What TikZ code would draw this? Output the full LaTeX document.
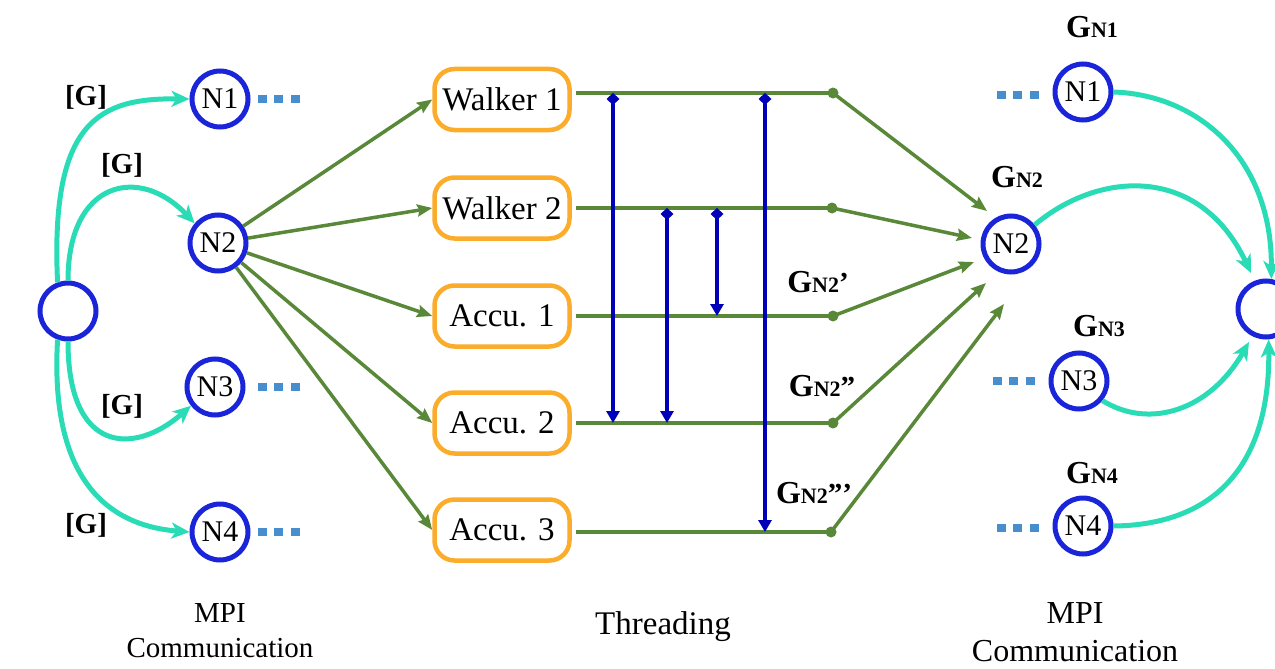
\documentclass[tikz,border=0pt]{standalone}
\usepackage{fontspec}
\setmainfont{Liberation Serif}
\usetikzlibrary{arrows.meta,calc}

\definecolor{ringblue}{RGB}{26,36,216}
\definecolor{flowcyan}{RGB}{42,220,182}
\definecolor{linkgreen}{RGB}{88,136,56}
\definecolor{syncblue}{RGB}{0,0,185}
\definecolor{boxorange}{RGB}{250,172,42}
\definecolor{dotblue}{RGB}{70,142,206}

\tikzset{
  procnode/.style={circle, draw=ringblue, line width=5pt, fill=white,
    minimum size=56pt, inner sep=0pt, font=\fontsize{30}{32}\selectfont},
  thread/.style={draw=boxorange, line width=4.5pt, rounded corners=20pt,
    fill=white, minimum width=135pt, minimum height=61pt, inner sep=0pt,
    font=\fontsize{33}{36}\selectfont},
  joint/.style={circle, fill=linkgreen, minimum size=11pt, inner sep=0pt},
  glabel/.style={font=\bfseries\fontsize{29}{30}\selectfont},
  caption/.style={align=center, font=\fontsize{29}{35}\selectfont},
  mpiflow/.style={draw=flowcyan, line width=5pt,
    -{Stealth[length=18pt, width=16pt, inset=5pt]}},
  spawn/.style={draw=linkgreen, line width=3.5pt,
    -{Stealth[length=15pt, width=12pt, inset=2pt]}},
  track/.style={draw=linkgreen, line width=3.5pt},
  sync/.style={draw=syncblue, line width=3.5pt,
    {Diamond[length=12pt, width=13pt]}-{Triangle[length=12pt, width=13pt]}},
  ellip/.style={fill=dotblue, minimum width=9pt, minimum height=8pt, inner sep=0pt},
}
\newcommand{\gsym}[1]{{\fontsize{32}{34}\selectfont G}{\fontsize{22}{24}\selectfont #1}}

\begin{document}
\begin{tikzpicture}[x=1pt, y=-1pt]
\useasboundingbox (0,0) rectangle (1275,669);
\clip (0,0) rectangle (1275,669);

% ---- left: scatter of G to the ranks
\node[procnode] (lroot) at (68,311) {};
\node[procnode] (lN1) at (220,99) {N1};
\node[procnode] (lN2) at (218,243) {N2};
\node[procnode] (lN3) at (215,387) {N3};
\node[procnode] (lN4) at (220,532) {N4};

\foreach \n/\y in {lN1/99, lN3/387, lN4/532}{
  \foreach \x in {262,278,295}{
    \node[ellip] at (\x,\y) {};
  }
}

\draw[mpiflow] (lroot.110) .. controls (50,120) and (100,98) .. (lN1.west);
\draw[mpiflow] (lroot.north) .. controls (68,180) and (140,165) .. (lN2.140);
\draw[mpiflow] (lroot.south) .. controls (68,455) and (135,455) .. (lN3.218);
\draw[mpiflow] (lroot.250) .. controls (50,470) and (100,525) .. (lN4.west);

\node[glabel] (g1) at (86,97) {[G]};
\node[glabel] (g2) at (122,165) {[G]};
\node[glabel] (g3) at (122,406) {[G]};
\node[glabel] (g4) at (86,525) {[G]};

% ---- middle: threads of rank N2
\node[thread] (w1) at (502,99.5) {Walker 1};
\node[thread] (w2) at (502,208) {Walker 2};
\node[thread] (a1) at (502,316) {Accu. 1};
\node[thread] (a2) at (502,423) {Accu. 2};
\node[thread] (a3) at (502,530) {Accu. 3};

\foreach \b in {w1,w2,a1,a2,a3}{
  \draw[spawn] (lN2) -- (\b.west);
}

\node[joint] (d1) at (833,93) {};
\node[joint] (d2) at (832,208) {};
\node[joint] (d3) at (833,316) {};
\node[joint] (d4) at (833,423) {};
\node[joint] (d5) at (831,532) {};

\draw[track] (w1.east |- d1) ++(4,0) -- (d1.center);
\draw[track] (w2.east |- d2) ++(4,0) -- (d2.center);
\draw[track] (a1.east |- d3) ++(4,0) -- (d3.center);
\draw[track] (a2.east |- d4) ++(4,0) -- (d4.center);
\draw[track] (a3.east |- d5) ++(4,0) -- (d5.center);

% synchronisation between threads
\coordinate (s1t) at (613,93);  \coordinate (s1b) at (613,423);
\coordinate (s2t) at (667,208); \coordinate (s2b) at (667,423);
\coordinate (s3t) at (717,208); \coordinate (s3b) at (717,316);
\coordinate (s4t) at (765,93);  \coordinate (s4b) at (765,532);
\draw[sync] (s1t) -- (s1b);
\draw[sync] (s2t) -- (s2b);
\draw[sync] (s3t) -- (s3b);
\draw[sync] (s4t) -- (s4b);

% ---- right: reduction to the root
\node[procnode] (rN1) at (1083,92) {N1};
\node[procnode] (rN2) at (1011,244) {N2};
\node[procnode] (rN3) at (1079,381) {N3};
\node[procnode] (rN4) at (1083,526) {N4};
\node[procnode] (rroot) at (1266,309) {};

\foreach \y/\x in {95/1001, 381/997, 528/1001}{
  \foreach \k in {0,16,33}{
    \node[ellip] at (\x+\k,\y) {};
  }
}

\coordinate (t1) at (987,211);
\coordinate (t2) at (972,238);
\coordinate (t3) at (974,262);
\coordinate (t4) at (986,283);
\coordinate (t5) at (1004,304);
\draw[spawn] (d1.center) -- (t1);
\draw[spawn] (d2.center) -- (t2);
\draw[spawn] (d3.center) -- (t3);
\draw[spawn] (d4.center) -- (t4);
\draw[spawn] (d5.center) -- (t5);

\draw[mpiflow] (rN1.east) .. controls (1200,95) and (1272,160) .. (rroot.80);
\draw[mpiflow] (rN2.39) .. controls (1100,170) and (1200,165) .. ($(rroot)+(-15,-36)$);
\draw[mpiflow] (rN3.-40) .. controls (1150,430) and (1210,410) .. ($(rroot)+(-17,33)$);
\draw[mpiflow] (rN4.east) .. controls (1210,525) and (1270,470) .. (rroot.-85);

\node[glabel] (gn1) at (1092,27) {\gsym{N1}};
\node[glabel] (gn2) at (1017,177) {\gsym{N2}};
\node[glabel] (gn3) at (1099,326) {\gsym{N3}};
\node[glabel] (gn4) at (1092,473) {\gsym{N4}};
\node[glabel] (gp1) at (818,282) {\gsym{N2}'};
\node[glabel] (gp2) at (822,386) {\gsym{N2}''};
\node[glabel] (gp3) at (814,493) {\gsym{N2}'''};

% ---- captions
\node[caption] (capl) at (220,631) {MPI\\Communication};
\node[caption, font=\fontsize{33}{36}\selectfont] (capm) at (663,627) {Threading};
\node[caption, font=\fontsize{32}{38}\selectfont] (capr) at (1075,632) {MPI\\Communication};
\end{tikzpicture}
\end{document}
